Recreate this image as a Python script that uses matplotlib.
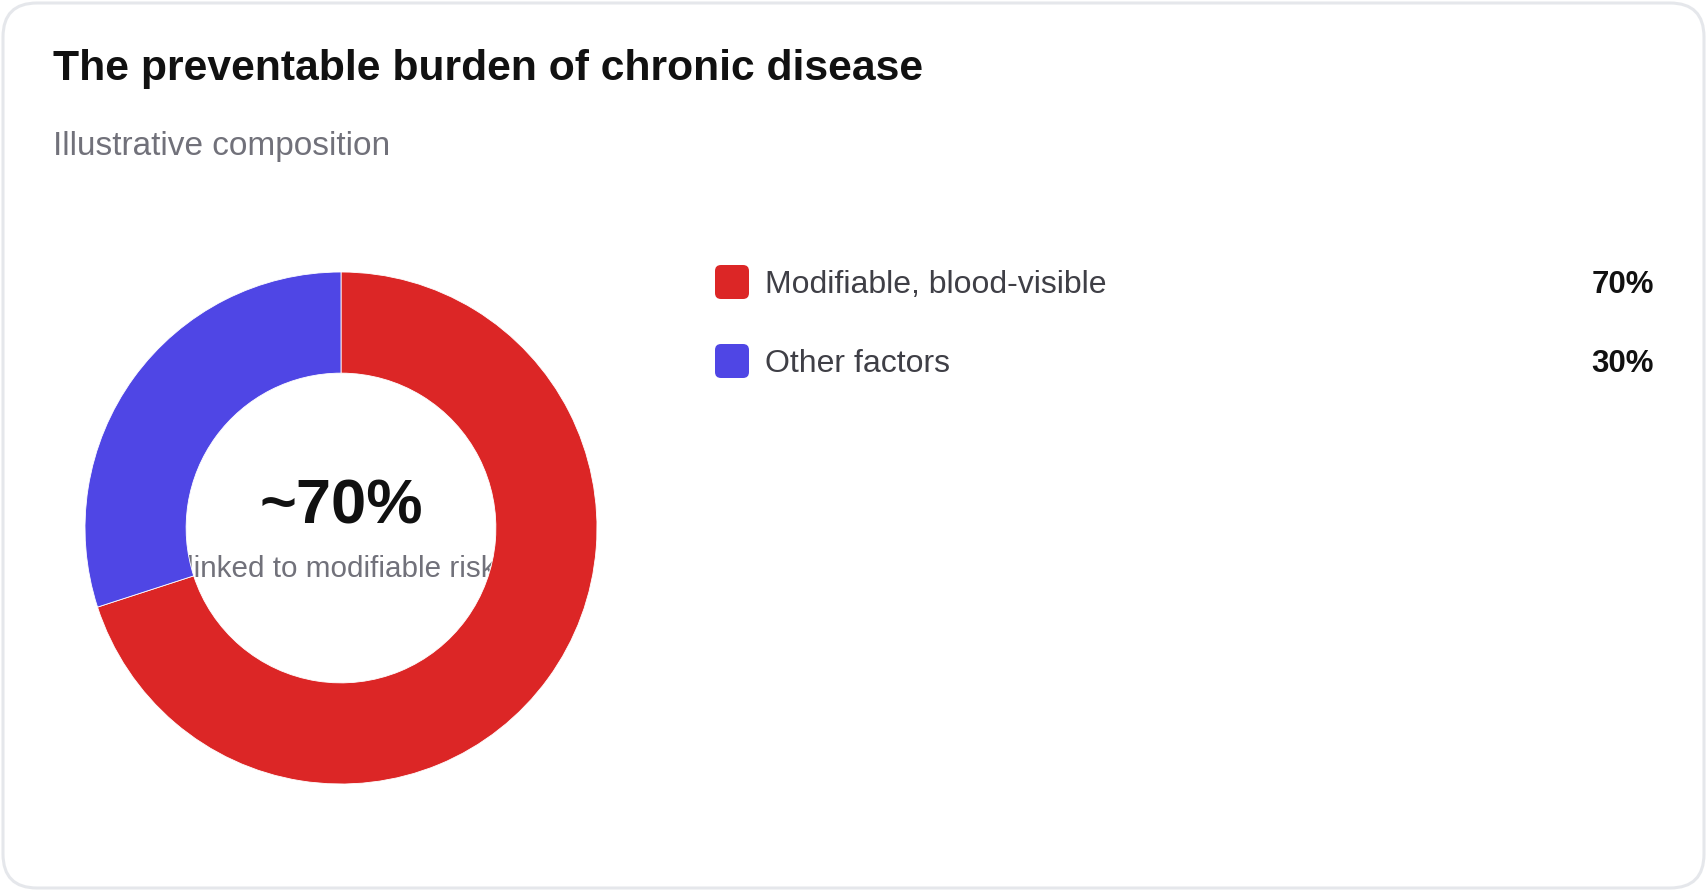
import matplotlib.pyplot as plt
from matplotlib.patches import FancyBboxPatch

# --- data ---
labels = ['Modifiable, blood-visible', 'Other factors']
shares = [70, 30]
colors = ['#dc2626', '#4f46e5']
value_labels = ['70%', '30%']
center_value = '~70%'
center_caption = 'linked to modifiable risk'

plt.rcParams['font.family'] = ['Liberation Sans', 'DejaVu Sans']

W, H = 1707, 891
fig = plt.figure(figsize=(W / 100, H / 100), dpi=100)


def fx(px):
    return px / W


def fy(py):
    # py measured from top
    return 1 - py / H


# card border
card = FancyBboxPatch((3, 3), W - 6, H - 6,
                      boxstyle='round,pad=0,rounding_size=34',
                      transform=None, facecolor='white',
                      edgecolor='#e5e7eb', linewidth=2.2, zorder=0)
fig.add_artist(card)

fig.text(fx(53), fy(80), 'The preventable burden of chronic disease',
         fontsize=30.7, fontweight='bold', color='#111111', va='baseline')
fig.text(fx(53), fy(155), 'Illustrative composition',
         fontsize=24, color='#71717a', va='baseline')

# donut
cx, cy, r = 341, 528, 256
ax = fig.add_axes([fx(cx - r), fy(cy + r), 2 * r / W, 2 * r / H])
ax.set_facecolor('none')
ax.pie(shares, colors=colors, startangle=90, counterclock=False,
       radius=1.0, wedgeprops=dict(width=0.395, edgecolor='white', linewidth=0.6))
ax.set_xlim(-1, 1)
ax.set_ylim(-1, 1)
ax.set_aspect('equal')
ax.axis('off')

ax.text(0, 0.083, center_value, fontsize=45.5, fontweight='bold',
        color='#111111', ha='center', va='center', zorder=0)
ax.text(0, -0.16, center_caption, fontsize=21.3, color='#71717a',
        ha='center', va='center', zorder=0)

# legend
rows_y = [282, 361]
for lab, col, val, yy in zip(labels, colors, value_labels, rows_y):
    sq = FancyBboxPatch((715, H - yy - 17), 34, 34,
                        boxstyle='round,pad=0,rounding_size=6',
                        transform=None, facecolor=col, edgecolor='none')
    fig.add_artist(sq)
    fig.text(fx(765), fy(yy + 3), lab, fontsize=23, color='#3f3f46',
             va='center')
    fig.text(fx(1654), fy(yy + 3), val, fontsize=22.5, fontweight='bold',
             color='#111111', va='center', ha='right')

fig.savefig('out.png', dpi=100, facecolor='white')
